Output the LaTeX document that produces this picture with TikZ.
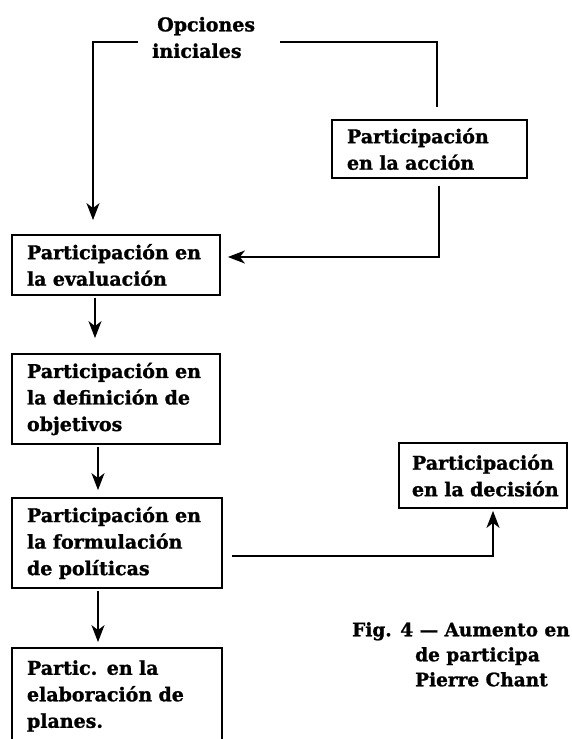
\documentclass[tikz,border=0pt]{standalone}
\usepackage{fontspec}
\setmainfont{DejaVu Serif}[BoldFeatures={FakeBold=1.2}]
\usetikzlibrary{arrows.meta}
\begin{document}
\begin{tikzpicture}[x=1pt,y=-1pt,
  every node/.style={font=\bfseries\fontsize{19}{26.5}\selectfont},
  box/.style={draw,line width=1.8pt,align=left,inner ysep=0pt,inner xsep=15pt},
  conn/.style={line width=2pt},
  arr/.style={conn,-{Stealth[length=17pt,width=13pt,inset=5pt]}}]
\useasboundingbox (0,0) rectangle (571,739);
\clip (0,0) rectangle (571,739);
\node[anchor=west,align=left,inner sep=0pt] (opc) at (152,37.5) {\hspace*{5pt}Opciones\\iniciales};
\coordinate (opL) at (138,42);
\coordinate (opR) at (280,42);
\node[box,minimum width=195pt,minimum height=58pt,text width=165pt] (acc) at (429.5,149) {\mbox{Participación}\\\mbox{en la acción}};
\node[box,minimum width=208pt,minimum height=60pt,text width=178pt] (eval) at (116,265) {\mbox{Participación en}\\\mbox{la evaluación}};
\node[box,minimum width=208pt,minimum height=90pt,text width=178pt] (def) at (116,399) {\mbox{Participación en}\\\mbox{la definición de}\\objetivos};
\node[box,minimum width=210pt,minimum height=90pt,text width=180pt] (form) at (117,543) {\mbox{Participación en}\\\mbox{la formulación}\\\mbox{de políticas}};
\node[box,minimum width=210pt,minimum height=96pt,text width=180pt] (elab) at (117,696) {\mbox{Partic. en la}\\\mbox{elaboración de}\\planes.};
\node[box,minimum width=168pt,minimum height=65pt,text width=142pt,inner xsep=13pt] (dec) at (483,475.5) {\mbox{Participación}\\\mbox{en la decisión}};
\node[anchor=north west,align=left,inner sep=0pt,font=\bfseries\fontsize{18.5}{25}\selectfont] (cap) at (352,622) {\mbox{Fig. 4 — Aumento en}\\\hspace*{63pt}\mbox{de participa}\\\hspace*{63pt}\mbox{Pierre Chant}};
\draw[arr] (opL) -| ([xshift=-23pt,yshift=14pt]eval.north);
\draw[conn] (opR) -| ([xshift=7.5pt,yshift=12pt]acc.north);
\draw[arr] ([xshift=9.5pt,yshift=-7pt]acc.south) |- ([xshift=7pt,yshift=8pt]eval.east);
\draw[arr] ([xshift=-21pt,yshift=-2pt]eval.south) -- ([xshift=-21pt,yshift=15pt]def.north);
\draw[arr] ([xshift=-18pt,yshift=-2pt]def.south) -- ([xshift=-19pt,yshift=7pt]form.north);
\draw[arr] ([xshift=-19pt,yshift=-2pt]form.south) -- ([xshift=-19pt,yshift=5pt]elab.north);
\draw[arr] ([xshift=9pt,yshift=-13pt]form.east) -| ([xshift=10pt,yshift=-2pt]dec.south);
\end{tikzpicture}
\end{document}
